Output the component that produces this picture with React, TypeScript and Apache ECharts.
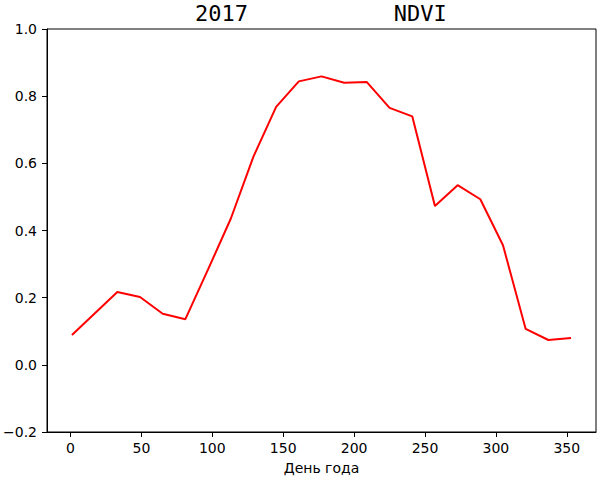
import React, { useEffect, useRef } from "react";
import * as echarts from "echarts";

const days = [1, 33, 49, 65, 81, 97, 113, 129, 145, 161, 177, 193, 209, 225, 241, 257, 273, 289, 305, 321, 337, 353];
const ndvi = [0.089, 0.217, 0.202, 0.152, 0.136, 0.284, 0.435, 0.62, 0.768, 0.844, 0.859, 0.84, 0.842, 0.765, 0.74, 0.473, 0.535, 0.493, 0.356, 0.107, 0.074, 0.08];
const xTicks = [0, 50, 100, 150, 200, 250, 300, 350];
const titleText = "2017" + " ".repeat(11) + "NDVI";
const xLabel = "День года";

export default function App() {
  const ref = useRef<HTMLDivElement>(null);
  useEffect(() => {
    document.body.style.margin = "0";
    const chart = echarts.init(ref.current!, null, { renderer: "svg" });
    const labelFont = { fontFamily: "DejaVu Sans", fontSize: 14, color: "#000" };
    chart.setOption({
      animation: false,
      title: {
        text: titleText,
        left: 195,
        top: 2,
        padding: 0,
        textStyle: { fontFamily: "DejaVu Sans Mono", fontSize: 22, fontWeight: "normal", color: "#000" },
      },
      grid: { left: 47, right: 4, top: 29, bottom: 47, show: true, borderColor: "#000", borderWidth: 1, containLabel: false },
      xAxis: {
        type: "value",
        min: -16.6,
        max: 370.6,
        name: xLabel,
        nameLocation: "middle",
        nameGap: 29,
        nameTextStyle: labelFont,
        splitLine: { show: false },
        axisLine: { show: true, onZero: false, lineStyle: { color: "#000", width: 1 } },
        axisTick: { show: true, length: 5, inside: false, lineStyle: { color: "#000" }, customValues: xTicks },
        axisLabel: { ...labelFont, margin: 9, customValues: xTicks, showMinLabel: true, showMaxLabel: true },
      },
      yAxis: {
        type: "value",
        min: -0.2,
        max: 1.0,
        interval: 0.2,
        splitLine: { show: false },
        axisLine: { show: true, onZero: false, lineStyle: { color: "#000", width: 1 } },
        axisTick: { show: true, length: 5, inside: false, lineStyle: { color: "#000" } },
        axisLabel: {
          ...labelFont,
          margin: 10,
          formatter: (v: number) => v.toFixed(1).replace("-", "\u2212"),
        },
      },
      series: [
        {
          type: "line",
          data: days.map((d, i) => [d, ndvi[i]]),
          showSymbol: false,
          symbol: "none",
          lineStyle: { color: "#ff0000", width: 2 },
          itemStyle: { color: "#ff0000" },
        },
      ],
    });
    return () => chart.dispose();
  }, []);
  return <div ref={ref} style={{ width: 600, height: 480, position: "absolute", left: 0, top: 0 }} />;
}
